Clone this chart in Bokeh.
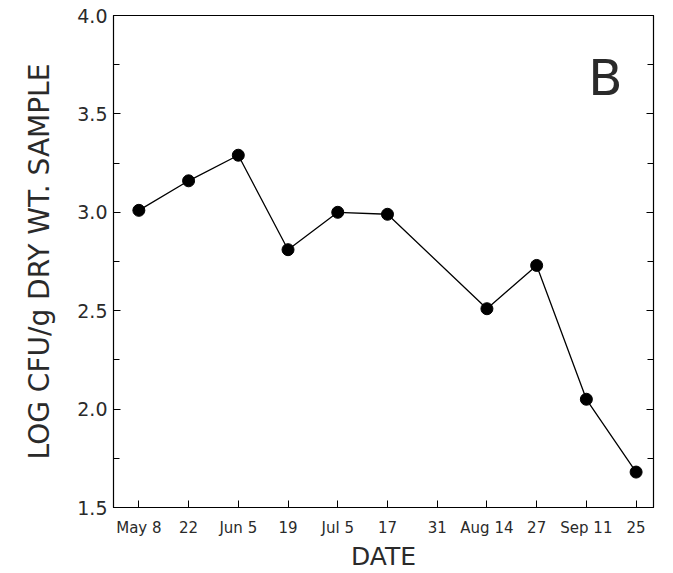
from bokeh.plotting import figure
from bokeh.models import FixedTicker, LinearAxis, Label, Range1d, Title
from bokeh.embed import file_html
from bokeh.resources import INLINE

# ---- data ----
tick_labels = ["May 8", "22", "Jun 5", "19", "Jul 5", "17", "31", "Aug 14", "27", "Sep 11", "25"]
point_idx = [0, 1, 2, 3, 4, 5, 7, 8, 9, 10]
log_cfu = [3.01, 3.16, 3.29, 2.81, 3.00, 2.99, 2.51, 2.73, 2.05, 1.68]
y_ticks = [1.5, 2.0, 2.5, 3.0, 3.5, 4.0]
y_tick_labels = ["1.5", "2.0", "2.5", "3.0", "3.5", "4.0"]
y_minor = [1.75, 2.25, 2.75, 3.25, 3.75]

FONT = "DejaVu Sans"
TXT = "#2a2a2a"

p = figure(width=660, height=570, output_backend="svg", toolbar_location=None,
           x_range=Range1d(-0.51, 10.35), y_range=Range1d(1.5, 4.0),
           min_border_left=113, min_border_right=7, min_border_top=15, min_border_bottom=61)
p.xgrid.visible = False
p.ygrid.visible = False
p.outline_line_color = "black"
p.outline_line_width = 1.2
p.background_fill_color = "white"
p.border_fill_color = "white"

p.line(point_idx, log_cfu, line_color="black", line_width=1.3)
p.scatter(point_idx, log_cfu, size=12, fill_color="black", line_color="black")

# x axis
xa = p.xaxis[0]
xa.ticker = FixedTicker(ticks=list(range(len(tick_labels))), minor_ticks=[])
xa.major_label_overrides = {i: t for i, t in enumerate(tick_labels)}
xa.major_tick_in = 7
xa.major_tick_out = 0
xa.minor_tick_line_color = None
xa.axis_line_color = "black"
xa.major_label_text_font = FONT
xa.major_label_text_font_size = "15px"
xa.major_label_text_color = TXT
xa.major_label_standoff = 11

# y axis
ya = p.yaxis[0]
ya.ticker = FixedTicker(ticks=y_ticks, minor_ticks=y_minor)
ya.major_label_overrides = {v: s for v, s in zip(y_ticks, y_tick_labels)}
ya.major_tick_in = 7
ya.major_tick_out = 0
ya.minor_tick_in = 6
ya.minor_tick_out = 0
ya.axis_line_color = "black"
ya.major_label_text_font = FONT
ya.major_label_text_font_size = "19px"
ya.major_label_text_color = TXT
ya.major_label_standoff = 6

# right axis (ticks only)
ra = LinearAxis(ticker=FixedTicker(ticks=y_ticks, minor_ticks=y_minor))
ra.major_tick_in = 7
ra.major_tick_out = 0
ra.minor_tick_in = 6
ra.minor_tick_out = 0
ra.major_label_overrides = {v: "" for v in y_ticks}
ra.major_label_standoff = 0
p.add_layout(ra, "right")

# axis titles
ytitle = Title(text="LOG CFU/g DRY WT. SAMPLE", align="center", standoff=38,
               text_font=FONT, text_font_size="28px", text_font_style="normal", text_color=TXT)
p.add_layout(ytitle, "left")
xtitle = Title(text="DATE", align="center", standoff=0,
               text_font=FONT, text_font_size="25px", text_font_style="normal", text_color=TXT)
p.add_layout(xtitle, "below")

p.add_layout(Label(x=9.04, y=3.68, text="B", text_baseline="middle",
                   text_font=FONT, text_font_size="50px", text_color=TXT))

open("out.html", "w").write(file_html(p, INLINE))
